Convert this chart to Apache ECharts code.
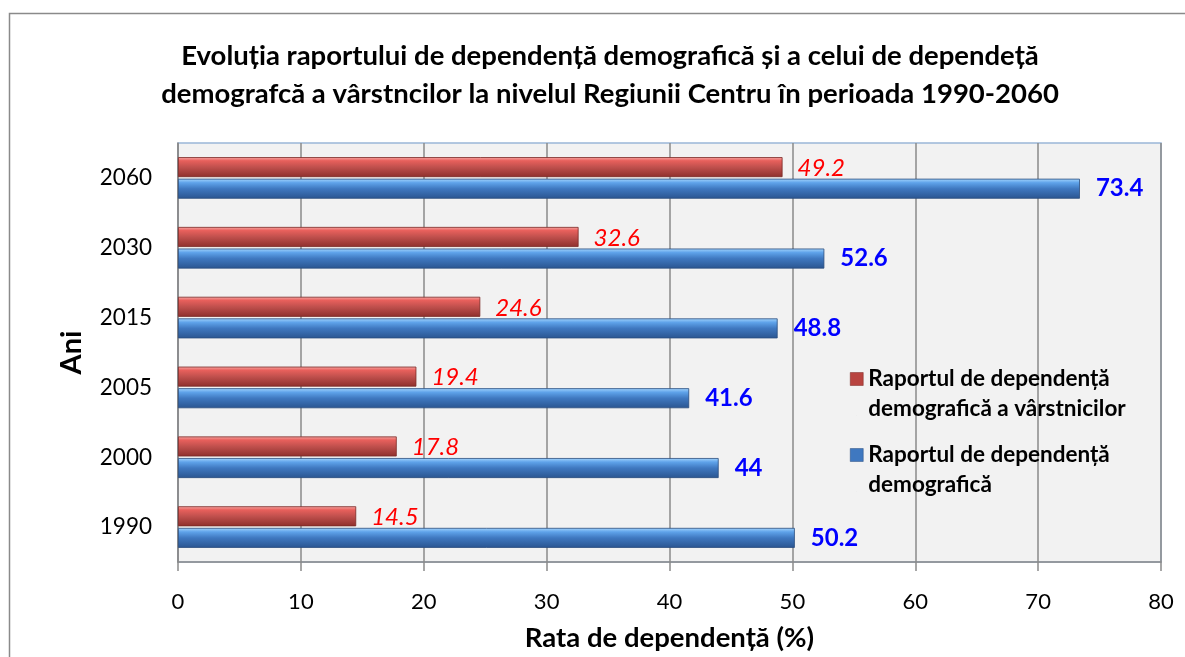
<!DOCTYPE html>
<html><head><meta charset="utf-8">
<script src="https://cdn.jsdelivr.net/npm/echarts@6/dist/echarts.min.js"></script>
<style>html,body{margin:0;padding:0;background:#fff}#c{width:1185px;height:657px}</style>
</head><body><div id="c"></div>
<script>
const years = ['1990', '2000', '2005', '2015', '2030', '2060'];
const elderlyRatio = [14.5, 17.8, 19.4, 24.6, 32.6, 49.2];
const totalRatio = [50.2, 44, 41.6, 48.8, 52.6, 73.4];
const xTicks = [0, 10, 20, 30, 40, 50, 60, 70, 80];
const nameElderly = 'Raportul de dependență demografică a vârstnicilor';
const nameTotal = 'Raportul de dependență demografică';
const legendLabels = ['Raportul de dependență\ndemografică a vârstnicilor', 'Raportul de dependență\ndemografică'];
const titleText = 'Evoluția raportului de dependență demografică și a celui de dependeță\ndemografcă a vârstncilor la nivelul Regiunii Centru în perioada 1990-2060';

const FONT = 'Lato, "Open Sans", sans-serif';
const chart = echarts.init(document.getElementById('c'));
function grad(stops){return new echarts.graphic.LinearGradient(0,0,0,1,stops.map(c=>({offset:c[0],color:c[1]})));}
const redGrad = grad([[0,'#f7a9a7'],[0.18,'#e8605c'],[0.5,'#c0504d'],[1,'#8e2f2c']]);
const blueGrad = grad([[0,'#a6d6fd'],[0.2,'#5fa3ea'],[0.5,'#3f78c0'],[1,'#2a5590']]);
const legendIcon = 'path://M0,0 h13 v13 h-13 Z M6,43 h0.01 v0.01 h-0.01 Z';

chart.setOption({
  animation: false,
  graphic: [{type:'rect', shape:{x:9.5,y:13.5,width:1300,height:800}, style:{fill:'none',stroke:'#8a8a8a',lineWidth:1.5}, z:-1}],
  title: {
    text: titleText, left: 605, top: 32, textAlign: 'center',
    textStyle: {fontFamily: FONT, fontWeight: 'bold', fontSize: 27.5, lineHeight: 38, color: '#000'}
  },
  legend: {
    data: [
      {name: nameElderly, itemStyle: {color: '#b8433f', borderColor: '#7a2825', borderWidth: 0.5}},
      {name: nameTotal, itemStyle: {color: '#3f78c0', borderColor: '#2a4d7e', borderWidth: 0.5}}
    ],
    orient: 'vertical', left: 845, top: 359, itemGap: 16,
    icon: legendIcon, itemWidth: 13, itemHeight: 43,
    formatter: n => n === nameElderly ? legendLabels[0] : legendLabels[1],
    textStyle: {fontFamily: FONT, fontWeight: 'bold', fontSize: 22.5, lineHeight: 30, color: '#000'}
  },
  grid: {left: 178, top: 143, right: 24, bottom: 88, show: true, backgroundColor: '#f2f2f2', borderColor: '#9bb6d8', borderWidth: 1.5},
  xAxis: {
    type: 'value', min: 0, max: 80, interval: 10,
    name: 'Rata de dependență (%)', nameLocation: 'middle', nameGap: 62,
    nameTextStyle: {fontFamily: FONT, fontWeight: 'bold', fontSize: 27.5, color: '#000'},
    axisLine: {show: true, lineStyle: {color: '#8a8a8a', width: 1.5}},
    axisTick: {show: true, length: 9, lineStyle: {color: '#8a8a8a', width: 1.5}},
    axisLabel: {fontFamily: FONT, fontSize: 22, color: '#000', margin: 29, formatter: v => xTicks.includes(v) ? String(v) : ''},
    splitLine: {show: true, lineStyle: {color: '#8a8a8a', width: 1.5}}
  },
  yAxis: {
    type: 'category', data: years,
    name: 'Ani', nameLocation: 'middle', nameGap: 92, nameRotate: 90,
    nameTextStyle: {fontFamily: FONT, fontWeight: 'bold', fontSize: 29, color: '#000'},
    axisLine: {show: true, lineStyle: {color: '#8a8a8a', width: 1.5}},
    axisTick: {show: false},
    axisLabel: {fontFamily: FONT, fontSize: 22.5, color: '#000', margin: 26, padding: [3, 0, 0, 0]},
    splitLine: {show: false}
  },
  series: [
    {
      name: nameElderly, type: 'bar', data: elderlyRatio, barWidth: 20, barGap: '8%',
      itemStyle: {color: redGrad, borderColor: '#7a2825', borderWidth: 0.8},
      label: {show: true, position: 'right', distance: 15, offset: [0, 1], color: '#ff0000', fontFamily: FONT, fontStyle: 'italic', fontSize: 24}
    },
    {
      name: nameTotal, type: 'bar', data: totalRatio, barWidth: 20, barGap: '8%',
      itemStyle: {color: blueGrad, borderColor: '#2a4d7e', borderWidth: 0.8},
      label: {show: true, position: 'right', distance: 16, color: '#0000ff', fontFamily: FONT, fontWeight: 'bold', fontSize: 24}
    }
  ]
});
</script></body></html>
